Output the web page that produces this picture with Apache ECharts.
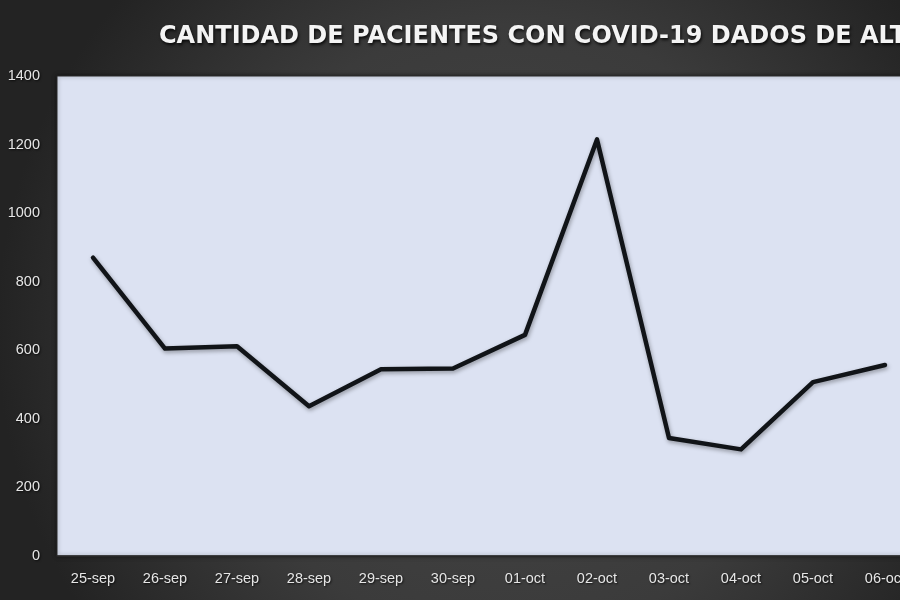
<!DOCTYPE html>
<html>
<head>
<meta charset="utf-8">
<script src="https://cdn.jsdelivr.net/npm/echarts@6/dist/echarts.min.js"></script>
<style>
html,body{margin:0;padding:0;background:#333;overflow:hidden;width:900px;height:600px;}
#c{width:921px;height:600px;}
</style>
</head>
<body>
<div id="c"></div>
<script>
const categories = ['25-sep','26-sep','27-sep','28-sep','29-sep','30-sep','01-oct','02-oct','03-oct','04-oct','05-oct','06-oct'];
const pacientes = [870, 605, 612, 437, 545, 547, 645, 1215, 344, 311, 507, 557];
const yTicks = [0, 200, 400, 600, 800, 1000, 1200, 1400];
const titleText = 'CANTIDAD DE PACIENTES CON COVID-19 DADOS DE ALTA';

const chart = echarts.init(document.getElementById('c'));
chart.setOption({
  backgroundColor: {
    type: 'radial', x: 0.55, y: 0.55, r: 0.85,
    colorStops: [
      {offset: 0, color: '#474747'},
      {offset: 0.6, color: '#3b3b3b'},
      {offset: 1, color: '#232323'}
    ]
  },
  animation: false,
  title: {
    text: titleText,
    left: 154, top: 20,
    textStyle: {
      color: '#f4f4f4', fontFamily: 'DejaVu Sans', fontWeight: 'bold', fontSize: 24,
      textShadowColor: 'rgba(0,0,0,0.8)', textShadowBlur: 3, textShadowOffsetX: 1, textShadowOffsetY: 2
    }
  },
  grid: {
    left: 57, top: 76, right: 0, height: 480,
    show: true, backgroundColor: '#dce2f2', borderColor: '#2a2a2a', borderWidth: 1,
    shadowColor: 'rgba(0,0,0,0.5)', shadowBlur: 4
  },
  xAxis: {
    type: 'category', data: categories, boundaryGap: true,
    axisLine: {show: true, lineStyle: {color: '#2a2a2a', width: 1.5}},
    axisTick: {show: false},
    splitLine: {show: false},
    axisLabel: {
      color: '#e6e6e6', fontFamily: 'Liberation Sans', fontSize: 14.5, margin: 15,
      textShadowColor: 'rgba(0,0,0,0.7)', textShadowBlur: 2, textShadowOffsetX: 1, textShadowOffsetY: 1
    }
  },
  yAxis: {
    type: 'value', min: 0, max: 1400, interval: 200,
    axisLine: {show: false}, axisTick: {show: false}, splitLine: {show: false},
    axisLabel: {
      color: '#e6e6e6', fontFamily: 'Liberation Sans', fontSize: 14.5, margin: 17,
      formatter: v => yTicks.includes(v) ? String(v) : '',
      textShadowColor: 'rgba(0,0,0,0.7)', textShadowBlur: 2, textShadowOffsetX: 1, textShadowOffsetY: 1
    }
  },
  series: [{
    type: 'line', data: pacientes, symbol: 'none', smooth: false,
    lineStyle: {color: '#111418', width: 4.5, shadowColor: 'rgba(0,0,0,0.35)', shadowBlur: 4, shadowOffsetX: 1, shadowOffsetY: 2, join: 'round', cap: 'round'}
  }]
});
</script>
</body>
</html>
